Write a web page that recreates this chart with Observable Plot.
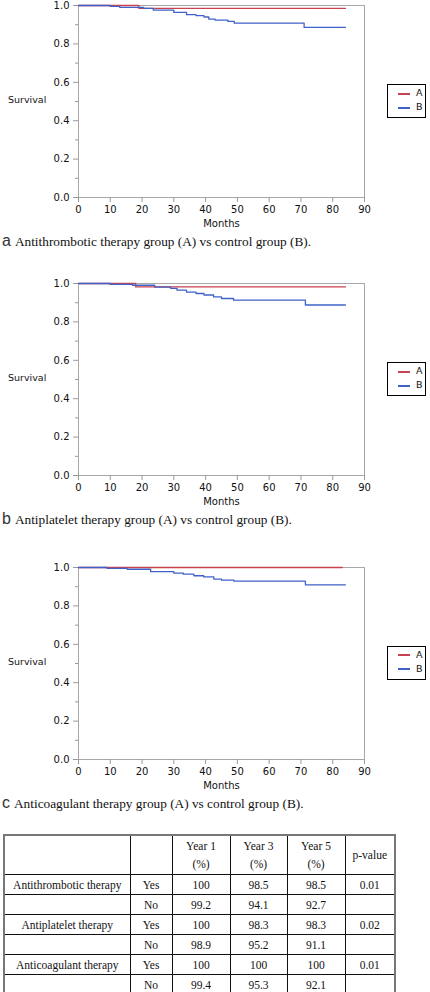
<!DOCTYPE html>
<html>
<head>
<meta charset="utf-8">
<script src="https://cdn.jsdelivr.net/npm/d3@7"></script>
<script src="https://cdn.jsdelivr.net/npm/@observablehq/plot@0.6"></script>
<style>
  body { margin:0; width:430px; height:992px; position:relative; background:#fff; overflow:hidden; }
  .panel { position:absolute; left:0; width:430px; height:250px; }
  .panel svg { position:absolute; left:0; top:0; }
  .ylab { position:absolute; left:8px; font:9.5px "DejaVu Sans", sans-serif; color:#111; }
  .legend { position:absolute; left:387px; top:84px; width:37px; height:32px; border:1px solid #000; background:#fff; font:9.5px "DejaVu Sans", sans-serif; color:#111; }
  .legend .item { position:absolute; left:10px; height:12px; line-height:12px; }
  .legend .sw { display:inline-block; width:12px; height:2px; vertical-align:middle; margin-right:6px; }
  .cap { position:absolute; left:2px; top:232px; font:13.3px "Liberation Serif", serif; color:#111; white-space:nowrap; }
  .cap .letter { font:16px "Liberation Sans", sans-serif; font-weight:300; color:#333; margin-right:4px; }
  table { position:absolute; left:3px; top:834px; border-collapse:collapse; border:2px solid #777; font:11.5px "Liberation Serif", serif; color:#111; }
  td { border:1px solid #111; text-align:center; padding:0; height:19px; }
  tr.head td { height:38px; line-height:18px; }
</style>
</head>
<body>
<div id="root"></div>
<script>
// ---- data ----
const xTicks = [0, 10, 20, 30, 40, 50, 60, 70, 80, 90];
const yTicks = [0, 0.2, 0.4, 0.6, 0.8, 1.0];
const yMinor = [0.1, 0.3, 0.5, 0.7, 0.9];
const groups = ["A", "B"];
const groupColors = ["#c9424f", "#3f62c8"];

// Panel a: antithrombotic
const aA_t = [0, 19, 84];
const aA_s = [1, 0.985, 0.985];
const aB_t = [0, 10, 13, 20.5, 23.5, 30, 34, 37, 39.5, 41, 43, 47, 49, 71, 84];
const aB_s = [1, 0.995, 0.99, 0.985, 0.976, 0.964, 0.952, 0.947, 0.94, 0.929, 0.924, 0.917, 0.908, 0.886, 0.886];

// Panel b: antiplatelet
const bA_t = [0, 18, 84];
const bA_s = [1, 0.982, 0.982];
const bB_t = [0, 10, 17, 24, 29, 31, 34, 37, 39.5, 42.5, 45, 48.8, 71.4, 84];
const bB_s = [1, 0.995, 0.991, 0.981, 0.975, 0.965, 0.955, 0.948, 0.94, 0.93, 0.922, 0.913, 0.888, 0.888];

// Panel c: anticoagulant
const cA_t = [0, 83];
const cA_s = [1, 1];
const cB_t = [0, 9, 15.3, 22.7, 30, 33, 36.3, 39.4, 42.6, 45, 48.9, 71.4, 84];
const cB_s = [1, 0.995, 0.991, 0.978, 0.971, 0.965, 0.957, 0.951, 0.939, 0.934, 0.929, 0.91, 0.91];

const captionLetters = ["a", "b", "c"];
const captions = [
  "Antithrombotic therapy group (A) vs control group (B).",
  "Antiplatelet therapy group (A) vs control group (B).",
  "Anticoagulant therapy group (A) vs control group (B)."
];

// table
const tableHeaders = ["Year 1", "Year 3", "Year 5"];
const therapies = ["Antithrombotic therapy", "Antiplatelet therapy", "Anticoagulant therapy"];
const yesVals = [["100", "98.5", "98.5"], ["100", "98.3", "98.3"], ["100", "100", "100"]];
const noVals = [["99.2", "94.1", "92.7"], ["98.9", "95.2", "91.1"], ["99.4", "95.3", "92.1"]];
const pValues = ["0.01", "0.02", "0.01"];

// ---- build ----
const panels = [
  {top: 0, A: [aA_t, aA_s], B: [aB_t, aB_s]},
  {top: 278.3, A: [bA_t, bA_s], B: [bB_t, bB_s]},
  {top: 561.7, A: [cA_t, cA_s], B: [cB_t, cB_s]}
];

function toRows(name, t, s) { return t.map((v, i) => ({group: name, t: v, s: s[i]})); }

function km(p) {
  const data = [...toRows("A", p.A[0], p.A[1]), ...toRows("B", p.B[0], p.B[1])];
  return Plot.plot({
    width: 430, height: 229,
    marginLeft: 78, marginRight: 66, marginTop: 5, marginBottom: 32,
    style: {fontFamily: "DejaVu Sans, sans-serif", fontSize: "10px", color: "#111", background: "transparent", overflow: "visible"},
    x: {domain: [0, 90]},
    y: {domain: [0, 1]},
    color: {domain: groups, range: groupColors},
    marks: [
      Plot.frame({stroke: "#a8a8a8"}),
      Plot.axisY(yMinor, {tickSize: 3, tickFormat: () => "", stroke: "#999", label: null}),
      Plot.axisY(yTicks, {tickSize: 5, tickPadding: 4, tickFormat: d => d.toFixed(1), stroke: "#999", label: null}),
      Plot.axisX(xTicks, {tickSize: 5, tickPadding: 3, tickFormat: d => String(d), stroke: "#999",
        label: "Months", labelAnchor: "center", labelArrow: "none", labelOffset: 29}),
      Plot.line(data, {x: "t", y: "s", z: "group", stroke: "group", curve: "step-after", strokeWidth: 1.3})
    ]
  });
}

const root = document.getElementById("root");
panels.forEach((p, i) => {
  const div = document.createElement("div");
  div.className = "panel";
  div.style.top = p.top + "px";
  div.appendChild(km(p));
  const yl = document.createElement("div");
  yl.className = "ylab";
  yl.textContent = "Survival";
  yl.style.top = "94px";
  div.appendChild(yl);
  const lg = document.createElement("div");
  lg.className = "legend";
  groups.forEach((g, j) => {
    const it = document.createElement("div");
    it.className = "item";
    it.style.top = (2 + j * 14) + "px";
    it.innerHTML = `<span class="sw" style="background:${groupColors[j]}"></span>${g}`;
    lg.appendChild(it);
  });
  div.appendChild(lg);
  const cap = document.createElement("div");
  cap.className = "cap";
  cap.innerHTML = `<span class="letter">${captionLetters[i]}</span>${captions[i]}`;
  div.appendChild(cap);
  root.appendChild(div);
});

const colW = [126, 42, 58, 57, 58, 50];
const table = document.createElement("table");
const cg = document.createElement("colgroup");
colW.forEach(w => { const c = document.createElement("col"); c.style.width = w + "px"; cg.appendChild(c); });
table.appendChild(cg);
let html = `<tr class="head"><td></td><td></td>${tableHeaders.map(h => `<td>${h}<br>(%)</td>`).join("")}<td>p-value</td></tr>`;
therapies.forEach((t, i) => {
  html += `<tr><td>${t}</td><td>Yes</td>${yesVals[i].map(v => `<td>${v}</td>`).join("")}<td>${pValues[i]}</td></tr>`;
  html += `<tr><td></td><td>No</td>${noVals[i].map(v => `<td>${v}</td>`).join("")}<td></td></tr>`;
});
table.innerHTML += html;
table.style.width = colW.reduce((a, b) => a + b, 0) + "px";
table.style.tableLayout = "fixed";
document.body.appendChild(table);
</script>
</body>
</html>
